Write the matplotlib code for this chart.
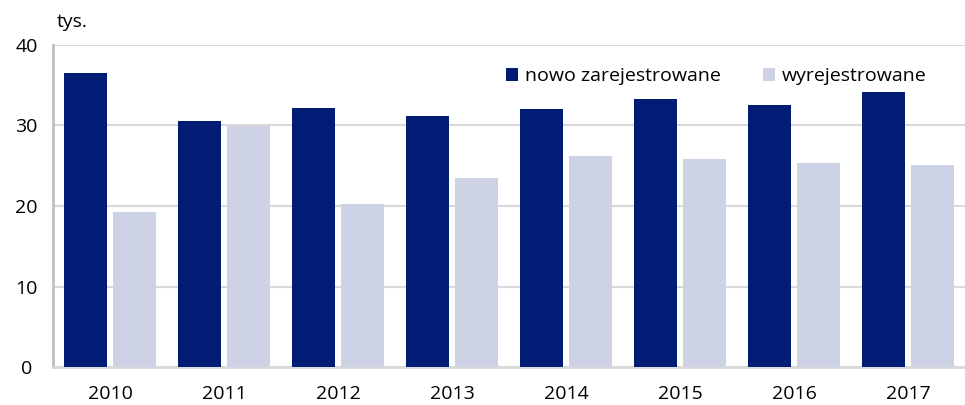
import matplotlib
matplotlib.use("Agg")
import matplotlib.pyplot as plt
import numpy as np

years = ["2010", "2011", "2012", "2013", "2014", "2015", "2016", "2017"]
nowo = [36.5, 30.6, 32.2, 31.2, 32.0, 33.3, 32.5, 34.2]
wyrej = [19.2, 29.9, 20.2, 23.5, 26.2, 25.9, 25.3, 25.1]
series_labels = ["nowo zarejestrowane", "wyrejestrowane"]

plt.rcParams['font.family'] = ['Open Sans', 'DejaVu Sans']

fig = plt.figure(figsize=(9.65, 4.05), dpi=100)
ax = fig.add_axes([53/965, 1-367/405, 912/965, 322/405])

x = np.arange(len(years))
w = 0.377
gap = 0.045
ax.bar(x - w/2 - gap/2, nowo, width=w, color="#001C74", label=series_labels[0], zorder=3)
ax.bar(x + w/2 + gap/2, wyrej, width=w, color="#CDD3E5", label=series_labels[1], zorder=3)

ax.set_xlim(-0.5, len(years) - 0.5)
ax.set_ylim(0, 40)
ax.set_yticks([0, 10, 20, 30, 40])
ax.set_xticks(x)
ax.set_xticklabels(years)
ax.yaxis.grid(True, color="#D9D9D9", linewidth=1.5, zorder=0)
ax.set_axisbelow(True)
for s in ["top", "right"]:
    ax.spines[s].set_visible(False)
ax.spines["left"].set_color("#BFBFBF")
ax.spines["left"].set_linewidth(2)
ax.spines["bottom"].set_color("#D9D9D9")
ax.spines["bottom"].set_linewidth(2)
ax.tick_params(axis="both", length=0, labelsize=14, colors="#000000")
ax.tick_params(axis="x", pad=13)
ax.tick_params(axis="y", pad=19)
for lbl in ax.get_yticklabels():
    lbl.set_horizontalalignment("center")

fig.text(57/965, 1-22/405, "tys.", fontsize=14, va="center", ha="left")

leg = ax.legend(loc="upper right", bbox_to_anchor=(0.977, 0.985), ncol=2, frameon=False,
                fontsize=14, handlelength=0.6, handleheight=0.6, columnspacing=2.2,
                handletextpad=0.35)

fig.savefig("out.png", dpi=100)
